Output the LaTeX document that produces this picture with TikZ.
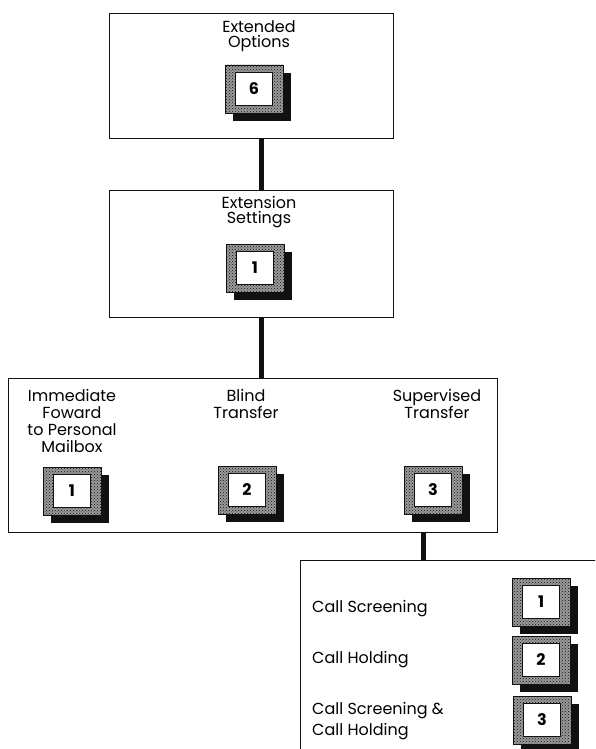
\documentclass[tikz,border=0pt]{standalone}
\usepackage{fontspec}
\setmainfont{Poppins}
\usepackage{tikz}
\usetikzlibrary{shadows,patterns,positioning}
\definecolor{ink}{HTML}{111111}
\definecolor{paper}{HTML}{FFFFFF}
\definecolor{grain}{HTML}{9A9A9A}
\tikzset{
  menubox/.style={draw=ink,line width=0.9pt,fill=paper,inner sep=0pt},
  keycap/.style={draw=ink,line width=0.6pt,fill=grain,postaction={pattern=crosshatch dots,pattern color=ink},minimum width=58pt,minimum height=48pt,inner sep=0pt,drop shadow={shadow xshift=8pt,shadow yshift=-8pt,fill=ink,opacity=1}},
  keyface/.style={draw=ink,line width=0.6pt,fill=paper,minimum width=37pt,minimum height=33pt,inner sep=0pt,font=\fontsize{16pt}{16pt}\selectfont\bfseries},
  lbl/.style={align=center,inner sep=0pt,font=\fontsize{16pt}{15.5pt}\selectfont},
  itm/.style={align=left,anchor=west,inner sep=0pt,font=\fontsize{16pt}{21pt}\selectfont},
  link/.style={line width=5pt,color=ink}}
\begin{document}
\begin{tikzpicture}[x=1pt,y=-1pt]
\useasboundingbox (0,0) rectangle (595,749);
\clip (0,0) rectangle (595,749);
\node[menubox,minimum width=284pt,minimum height=125pt] (extopt) at (251,75.5) {};
\node[lbl] (extoptlbl) at (259,36) {Extended\\Options};
\node[keycap] (k6) at (254,89) {}; \node[keyface] (k6face) at (k6) {6};
\node[menubox,minimum width=284pt,minimum height=127pt] (extset) at (251,253.5) {};
\node[lbl] (extsetlbl) at (259,212) {Extension\\Settings};
\node[keycap] (k1) at (255,268) {}; \node[keyface] (k1face) at (k1) {1};
\node[menubox,minimum width=489pt,minimum height=154pt] (xfer) at (252.5,455) {};
\node[lbl,anchor=north,font=\fontsize{16pt}{17pt}\selectfont] (fwdlbl) at (72,389) {Immediate\\Foward\\to Personal\\Mailbox};
\node[lbl,anchor=north,font=\fontsize{16pt}{17pt}\selectfont] (blindlbl) at (246,389) {Blind\\Transfer};
\node[lbl,anchor=north,font=\fontsize{16pt}{17pt}\selectfont] (suplbl) at (437,389) {Supervised\\Transfer};
\node[keycap] (kfwd) at (72,491) {}; \node[keyface] (kfwdface) at (kfwd) {1};
\node[keycap] (kblind) at (247,490) {}; \node[keyface] (kblindface) at (kblind) {2};
\node[keycap] (ksup) at (433,490) {}; \node[keyface] (ksupface) at (ksup) {3};
\node[menubox,minimum width=320pt,minimum height=220pt,anchor=north west] (callopt) at (300,560) {};
\node[itm] (scrlbl) at (312,609) {Call Screening};
\node[itm] (holdlbl) at (312,660) {Call Holding};
\node[itm] (bothlbl) at (312,721) {Call Screening \&\\Call Holding};
\node[keycap] (kscr) at (541,602) {}; \node[keyface] (kscrface) at (kscr) {1};
\node[keycap] (khold) at (541,660) {}; \node[keyface] (kholdface) at (khold) {2};
\node[keycap] (kboth) at (542,720) {}; \node[keyface] (kbothface) at (kboth) {3};
\draw[link] ([xshift=10pt]extopt.south) -- ([xshift=10pt]extset.north);
\draw[link] ([xshift=10pt]extset.south) -- ([xshift=10pt]extset.south |- xfer.north);
\draw[link] ([xshift=171pt]xfer.south) -- ([xshift=171pt]xfer.south |- callopt.north);
\end{tikzpicture}
\end{document}
